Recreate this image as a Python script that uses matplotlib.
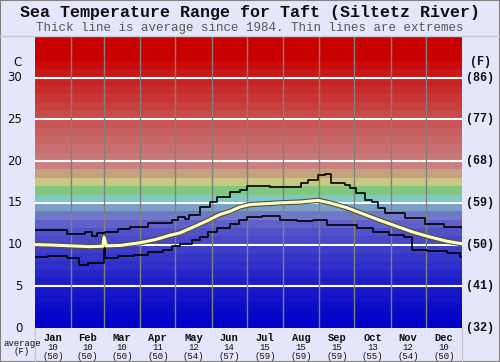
import matplotlib
matplotlib.use('Agg')
import matplotlib.pyplot as plt
import matplotlib.patheffects as pe
from matplotlib.patches import Rectangle
from matplotlib.lines import Line2D

# data (days of year, deg C)
months = ['Jan', 'Feb', 'Mar', 'Apr', 'May', 'Jun', 'Jul', 'Aug', 'Sep', 'Oct', 'Nov', 'Dec']
month_start = [0, 31, 59, 90, 120, 151, 181, 212, 243, 273, 304, 334, 365]
avg_c = [10, 10, 10, 11, 12, 14, 15, 15, 15, 13, 12, 10]
avg_f = [50, 50, 50, 50, 54, 57, 59, 59, 59, 55, 54, 50]

avg_days = [0, 13, 30, 47, 58, 59, 61, 73, 89, 103, 115, 124, 137, 148, 158, 167, 175, 184,
            197, 209, 227, 242, 252, 267, 280, 295, 309, 323, 338, 352, 365]
avg_vals = [10.0, 9.95, 9.85, 9.75, 9.8, 10.9, 9.85, 9.9, 10.2, 10.6, 11.1, 11.4, 12.2, 12.9,
            13.6, 14.0, 14.5, 14.8, 14.9, 15.0, 15.1, 15.3, 15.0, 14.4, 13.7, 12.9, 12.2, 11.5,
            10.9, 10.4, 10.1]

max_days = [0, 27, 43, 49, 53, 60, 71, 81, 97, 117, 122, 128, 132, 141, 150, 156, 167, 175,
            181, 201, 227, 233, 242, 248, 253, 265, 269, 274, 282, 288, 293, 299, 316, 333,
            350, 365]
max_vals = [11.7, 11.3, 11.5, 11.0, 11.4, 11.5, 11.9, 12.1, 12.6, 13.0, 13.3, 13.1, 13.5,
            14.5, 15.1, 15.7, 16.3, 16.6, 17.0, 16.9, 17.4, 17.7, 18.3, 18.4, 17.4, 17.1, 16.8,
            16.2, 15.3, 15.1, 14.4, 13.8, 13.2, 12.5, 12.1, 12.0]

min_days = [0, 11, 27, 38, 45, 59, 60, 71, 85, 97, 109, 117, 124, 134, 141, 148, 156, 167,
            174, 181, 194, 209, 224, 238, 250, 275, 289, 303, 315, 322, 335, 352, 363, 365]
min_vals = [8.5, 8.6, 8.4, 7.6, 7.8, 10.3, 8.4, 8.6, 8.7, 9.1, 9.3, 9.8, 10.1, 10.6, 10.9,
            11.5, 12.0, 12.5, 12.9, 13.3, 13.4, 12.9, 12.8, 13.0, 12.3, 12.0, 11.5, 11.1, 10.9,
            9.3, 9.2, 9.0, 8.5, 8.5]

c_ticks = [0, 5, 10, 15, 20, 25, 30]
f_ticks = ['(32)', '(41)', '(50)', '(59)', '(68)', '(77)', '(86)']

# one colour per 1 degree band, 0..35
band_colors = ['#0000c8', '#0606c8', '#0c0cc8', '#1212c8', '#1818c8', '#1e1ec8', '#2626c8',
               '#2e2ec8', '#3636c8', '#3e3ec8', '#4848c8', '#5252c8', '#6060c8', '#7078c8',
               '#7aa0c8', '#80c8c8', '#80c880', '#c8c880', '#c8a080', '#c88080', '#c87878',
               '#c87070', '#c86868', '#c85e5e', '#c85454', '#c84a4a', '#c84040', '#c83636',
               '#c82c2c', '#c82222', '#c81818', '#c80c0c', '#c80000', '#c80000', '#c80000']

W, H = 500, 362
bg = '#e6e6fa'
mono = ['Liberation Mono', 'DejaVu Sans Mono']

fig = plt.figure(figsize=(W / 100, H / 100), dpi=100, facecolor=bg)
ax = fig.add_axes([35 / W, 1 - 328 / H, (462 - 35) / W, (328 - 36) / H])

for i, col in enumerate(band_colors):
    ax.axhspan(i, i + 1, color=col, lw=0, zorder=0)
for t in c_ticks[1:]:
    ax.axhline(t, color='white', lw=1.5, zorder=1)
for d in month_start[1:-1]:
    ax.axvline(d, color='#808080', lw=1, zorder=1)

ax.plot(max_days, max_vals, color='black', lw=1.2, drawstyle='steps-post', zorder=3)
ax.plot(min_days, min_vals, color='black', lw=1.2, drawstyle='steps-post', zorder=3)
ax.plot(avg_days, avg_vals, color='#ffffc0', lw=2.2, zorder=4,
        path_effects=[pe.Stroke(linewidth=3.8, foreground='#505040'), pe.Normal()])

ax.set_xlim(0, 365)
ax.set_ylim(0, 35)
ax.set_xticks([])
ax.set_yticks([])
for s in ax.spines.values():
    s.set_visible(False)

def px(x, y):
    return x / W, 1 - y / H

# titles
fig.text(*px(250, 13), 'Sea Temperature Range for Taft (Siltetz River)', ha='center', va='center',
         fontsize=12, fontweight='bold', family=mono, color='#101010')
fig.text(*px(250, 28), 'Thick line is average since 1984. Thin lines are extremes', ha='center',
         va='center', fontsize=9, family=mono, color='#555555')

# left celsius labels, right fahrenheit labels
fig.text(*px(22, 62), 'C', ha='right', va='center', fontsize=8.5, color='#101010')
fig.text(*px(480, 62), '(F)', ha='center', va='center', fontsize=8.5, fontweight='bold',
         family=mono, color='#101010')
for t, f in zip(c_ticks, f_ticks):
    ax.text(-0.03, t / 35, str(t), transform=ax.transAxes, ha='right', va='center',
            fontsize=8.5, color='#101010')
    ax.text(1.042, t / 35, f, transform=ax.transAxes, ha='center', va='center',
            fontsize=8.5, fontweight='bold', family=mono, color='#101010')

# month labels with averages
for i, m in enumerate(months):
    mid = (month_start[i] + month_start[i + 1]) / 2
    xf = (mid / 365)
    ax.text(xf, -0.018, m, transform=ax.transAxes, ha='center', va='top', fontsize=7.5,
            fontweight='bold', family=mono, color='#101010')
    ax.text(xf, -0.052, str(avg_c[i]), transform=ax.transAxes, ha='center', va='top',
            fontsize=6.5, family=mono, color='#101010')
    ax.text(xf, -0.083, '(%d)' % avg_f[i], transform=ax.transAxes, ha='center', va='top',
            fontsize=6.5, family=mono, color='#101010')
fig.text(*px(22, 343), 'average', ha='center', va='center', fontsize=6.5, family=mono,
         color='#101010')
fig.text(*px(22, 352), '(F)', ha='center', va='center', fontsize=6.5, family=mono,
         color='#101010')

# frame lines outside the plot
fig.add_artist(Line2D([0, 1], [1 - 35.5 / H] * 2, color='#c8c8d8', lw=1))
for xx in (35, 462):
    fig.add_artist(Line2D([xx / W] * 2, [0, 1 - 328 / H], color='#c8c8d8', lw=1))
fig.add_artist(Rectangle((0, 0), 1, 1, transform=fig.transFigure, fill=False,
                         edgecolor='#808080', lw=1.5))

plt.savefig('out.png', dpi=100, facecolor=bg)
